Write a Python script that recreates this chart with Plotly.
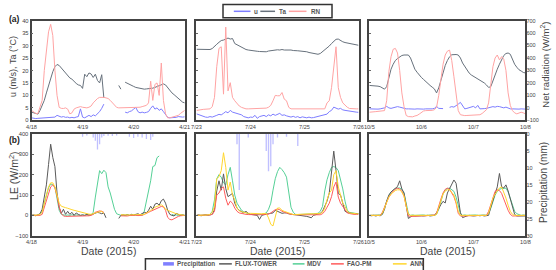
import plotly.graph_objects as go

N = None
hours = list(range(73))

ticks_apr = ["4/18", "4/19", "4/20", "4/21"]
ticks_jul = ["7/23", "7/24", "7/25", "7/26"]
ticks_oct = ["10/5", "10/6", "10/7", "10/8"]

# ---------------- April 18-21 ----------------
u_apr = [1.0, 0.8, 0.7, 0.8, 0.9, 1.0, 1.1, 1.2, 1.0, 1.2, 1.5, 1.3,
         2.0, 1.8, 1.3, 1.5, 1.2, 1.3, 1.0, 1.2, 1.0, 1.3, 1.5, 4.6,
         1.3, 1.0, 1.5, 2.0, 1.5, 2.2, 1.8, 2.5, 3.5, 4.8, 6.5, N,
         N, N, N, N, N, N, N, N, 3.3, 3.0, 3.5, 3.8,
         4.5, 5.2, 3.5, 3.0, 3.3, 3.0, 3.2, 3.5, 4.8, 5.8, 4.5, 5.0,
         4.0, 4.6, 3.5, 2.5, 1.2, 1.0, 1.0, 1.3, 1.2, 1.5, 1.3, 1.3, 1.4]
ta_apr = [3.3, 3.0, 2.6, 2.5, 4.0, 6.0, 8.0, 11.0, 14.0, 17.0, 19.5, 21.5,
          22.4, 22.0, 21.0, 20.0, 19.0, 18.0, 17.0, 16.5, 15.5, 14.8, 14.2, 14.0,
          12.8, 18.5, 17.5, 19.0, 18.6, 17.2, 18.5, 16.0, 15.0, 18.3, 9.0, N,
          N, N, N, N, N, 14.0, 12.5, N, 15.3, 14.8, 14.3, 14.0,
          13.6, 13.2, 13.0, 12.7, 12.5, 12.5, 12.6, 12.7, 12.5, 12.9, 13.2, 13.5,
          14.0, 14.3, 14.6, 14.2, 13.0, 12.0, 11.0, 10.3, 9.5, 8.6, 8.0, 7.3, 7.0]
rn_apr = [-20, -30, -45, -45, 0, 60, 300, 440, 610, 670, 580, 300,
          100, 4, -4, -5, 0, -10, -48, -40, -10, 0, 5, 10,
          5, 0, 0, 5, 15, 40, 60, 75, 84, 85, 84, 80,
          75, 60, 40, 20, 4, 0, 0, 0, 0, 2, 0, 0,
          0, 0, 0, 5, 10, 15, 20, 40, 214, 60, 188, 200,
          100, 360, 60, -48, -80, -80, -75, -70, -65, -60, -45, -30, -20]
flux_apr = [0, 2, -2, 4, 8, 30, 90, 150, 250, 350, 285, 240,
            110, 40, 10, 30, 5, 20, 5, 15, 0, 12, 5, 0,
            2, 0, 5, 2, 3, 8, 10, 15, 12, 8, 12, -12,
            N, N, N, N, N, -15, 0, 2, 0, 3, 0, 5,
            2, 5, 8, 3, 10, 15, 12, 25, 45, 30, 55, 60,
            50, 72, 80, 60, 25, 5, 0, -3, 10, 5, 0, 2, 0]
mdv_apr = [0, 0, 2, 0, 5, 20, 60, 100, 135, 155, 150, 140,
           80, 25, 5, 2, 0, 2, 0, 3, 0, 2, 0, 0,
           2, 0, 3, 0, 2, 15, 90, 160, 220, 205, 222, 210,
           140, 110, 70, 30, 8, 2, 0, 2, 0, 3, 0, 2,
           0, 2, 0, 3, 0, 20, 70, 120, 170, 240, 245, 284,
           292, N, N, N, N, N, 5, 0, 2, 0, 3, 0, 0]
fao_apr = [0, 0, -2, 0, 0, 5, 40, 80, 115, 140, 150, 135,
           95, 40, 10, -3, -5, -5, -4, -5, -3, -5, -4, -3,
           -3, -2, -3, -2, 0, 5, 15, 20, 22, 20, 15, N,
           N, N, N, N, N, N, -2, -3, -2, -3, -1, 0,
           -2, 0, -1, -2, 0, 5, 12, 15, 20, 25, 30, 35,
           40, 44, 42, 25, -10, -20, -22, -15, -8, -5, -2, 0, 0]
ann_apr = [0, 0, 0, 2, 5, 15, 60, 100, 140, 160, 160, 140,
           95, 60, 45, 40, 38, 35, 30, 28, 25, 22, 20, 15,
           12, 10, 8, 6, 5, 10, 12, 15, 18, 20, 10, N,
           N, N, N, N, N, N, 3, 2, 4, 3, 2, 3,
           2, 3, 4, 2, 3, 5, 10, 18, 25, 30, 40, 45,
           50, 52, 45, 30, 25, 20, 15, 10, 8, 5, 3, 0, 0]
precip_apr = [0, 0, 0, 0, 0, 0, 0, 0, 0, 0, 0, 0,
              0, 0, 0, 0, 0, 0, 0, 0, 0, 0, 0, 0,
              0.8, 0, 0.4, 0, 0, 1.0, 2.0, 4.6, 3.0, 1.0, 0.6, 0,
              0.5, 0, 0.6, 0, 0.4, 0, 0, 0, 0, 0, 0.8, 0,
              1.2, 0, 0.8, 0, 1.0, 0, 1.5, 0, 1.8, 0.8, 0, 0,
              0, 0, 0, 0, 0, 0, 0, 0, 0, 0, 0, 0, 0]

# ---------------- July 23-26 ----------------
u_jul = [2.6, 2.2, 1.8, 1.4, 1.3, 1.2, 1.5, 1.3, 1.8, 2.0, 2.4, 2.2,
         2.8, 3.5, 3.0, 4.0, 3.3, 3.0, 2.8, 2.6, 2.2, 1.5, 1.3, 1.0,
         1.3, 1.2, 2.0, 0.8, 1.5, 1.8, 2.0, 1.5, 2.2, 1.8, 2.5, 2.0,
         2.4, 2.8, 2.0, 2.2, 1.8, 1.5, 1.3, 1.6, 1.2, 1.5, 1.0, 1.4,
         1.2, 1.0, 1.3, 1.0, 1.1, 1.3, 1.5, 1.8, 2.0, 2.2, 2.5, 3.5,
         4.0, 5.3, 4.8, 4.5, 4.8, 4.2, 4.0, 3.8, 3.6, 3.4, 3.3, 3.3, 3.2]
ta_jul = [28.5, 28.5, 28.3, 28.2, 28.2, 28.3, 28.4, 28.8, 29.5, 30.5, 31.3, 32.0,
          32.2, 32.5, 33.0, 32.6, 32.8, 30.8, 30.3, 29.8, 29.2, 28.8, 28.4, 28.2,
          28.0, 27.8, 27.9, 27.7, 27.6, 27.5, 27.3, 27.5, 27.8, 28.0, 28.2, 28.3,
          28.3, 28.2, 28.4, 28.2, 28.3, 28.2, 28.2, 28.0, 28.1, 27.9, 27.8, 27.8,
          27.6, 27.5, 27.2, 27.0, 26.7, 26.5, 26.5, 26.8, 27.5, 28.2, 29.0, 29.8,
          30.8, 31.8, 32.5, 32.6, 32.0, 31.5, 31.2, 31.0, 30.8, 30.5, 30.3, 30.2, 30.1]
rn_jul = [-21, -20, -15, -12, -10, -8, -8, 10, 84, 330, 477, 490,
          110, 648, 136, 202, 84, 57, 31, 15, 4, -5, -8, -8,
          -8, -8, -8, -8, -5, -8, -5, -2, 5, 20, 57, 100,
          97, 97, 123, 70, 57, 4, -8, -8, -6, -8, -9, -8,
          -8, -7, -8, -8, -9, -8, -8, -7, -8, -8, 40, 57,
          162, 320, 490, 162, 84, 40, 18, 5, -5, -8, -8, -8, -8]
flux_jul = [0, 2, -2, 0, 3, 0, 2, 5, 28, 120, 170, 124,
            204, 132, 92, 100, 108, 60, 36, 25, 20, 12, 20, 10,
            5, 4, 2, 0, -20, 0, 3, 4, 8, 10, 12, 25,
            20, 15, 10, 12, 12, 8, 5, 4, 3, 2, 0, 0,
            -3, -5, -8, -12, 0, 3, 5, 10, 20, 44, 70, 110,
            204, 316, 220, 108, 100, 60, 20, 15, 10, 9, 9, 8, 8]
mdv_jul = [0, 0, 2, 0, 0, 2, 5, 20, 76, 180, 200, 188,
           160, 150, 200, 236, 170, 100, 60, 40, 25, 18, 12, 8,
           5, 4, 4, 4, 4, 5, 8, 12, 30, 60, 124, 180,
           215, 236, 225, 210, 188, 120, 40, 15, 5, 4, 4, 4,
           4, 5, 6, 7, 8, 8, 10, 20, 44, 120, 175, 210,
           236, 240, 235, 220, 180, 130, 70, 25, 15, 12, 10, 9, 9]
fao_jul = [0, 0, 0, 0, 0, 0, 2, 5, 20, 100, 110, 132,
           140, 84, 50, 70, 60, 36, 20, 12, 9, 6, 5, 4,
           3, 3, 3, 3, 3, 3, 4, 4, 6, 12, 20, 28,
           31, 28, 20, 15, 12, 8, 5, 3, 3, 3, 3, 3,
           3, 3, 3, 3, 3, 3, 3, 3, 8, 20, 40, 60,
           92, 140, 164, 90, 60, 44, 22, 12, 9, 6, 5, 5, 5]
ann_jul = [0, 0, 0, 0, 0, 2, 5, 15, 44, 180, 190, 220,
           308, 236, 124, 164, 100, 76, 36, 22, 18, 15, 12, 10,
           10, 9, 9, 9, 8, 8, 9, 9, -12, -44, -52, -10,
           36, 36, 25, 20, 15, 10, 5, 4, 4, 5, 6, 6,
           7, 7, 8, 8, 8, 8, 9, 9, 15, 36, 76, 110,
           124, 200, 220, 140, 100, 60, 44, 20, 12, 10, 8, 8, 8]
precip_jul = [0, 0, 0, 0, 0, 0, 0, 0, 0, 0, 0, 0,
              0, 0, 0, 0, 0, 0, 3.0, 16.5, 0, 0, 0, 1.0,
              0, 0, 0, 0, 0, 0, 0, 5.0, 11.0, 9.5, 3.0, 0,
              1.0, 0, 0, 0, 0.8, 0, 0, 0, 0, 3.5, 0, 0,
              0, 0, 0, 0, 0, 0, 0, 0, 0, 0, 0, 0,
              0, 0, 0, 0, 0, 0, 0, 0, 0, 0, 0, 0, 0]

# ---------------- October 5-8 ----------------
u_oct = [4.6, 4.5, 4.7, 4.6, 4.5, 4.6, 4.8, 5.0, 5.6, 5.0, 4.8, 5.0,
         5.3, 5.5, 5.3, 5.0, 4.8, 4.6, 4.6, 4.5, 4.6, 4.5, 4.6, 4.5,
         4.6, 4.5, 4.6, 4.5, 4.5, 4.6, 4.8, 5.6, 4.8, 4.6, 4.7, N,
         N, 5.2, 5.5, 5.3, 5.8, 6.5, 7.2, 6.0, 4.6, 4.8, 5.0, 5.2,
         5.6, 5.0, 6.0, 4.6, 4.8, 4.7, 4.8, 5.0, 5.3, 5.5, 5.3, 5.6,
         5.5, 5.2, 5.0, 5.3, 4.8, 4.6, 4.6, 4.5, 4.6, 4.5, 4.6, 4.6, 4.5]
ta_oct = [14.0, 14.0, 13.9, 13.8, 13.7, 13.5, 13.0, 12.5, 13.5, 17.0, 20.5, 22.5,
          24.0, 24.8, 25.5, 26.0, 26.2, 26.3, 26.2, 25.0, 22.5, 20.5, 19.3, 18.0,
          17.2, 16.4, 15.5, 14.8, 14.0, 13.3, 12.6, 11.0, 13.0, 16.0, 19.5, 22.0,
          24.0, 25.5, 26.3, 26.5, 26.4, 26.2, 25.0, 23.0, 21.5, 20.3, 19.0, 18.2,
          17.7, 17.2, 16.6, 16.2, 15.8, 15.0, 14.2, 13.2, 13.5, 16.0, 18.5, 20.5,
          22.5, 24.5, 26.0, 26.8, 27.0, 26.5, 24.5, 22.5, 21.3, 20.3, 19.8, 19.2, 19.0]
rn_oct = [-35, -35, -33, -30, -28, -25, -22, -22, 57, 290, 410, 470,
          477, 440, 300, 120, 10, -61, -70, -74, -72, -65, -61, -50,
          -35, -25, -22, -22, -22, -20, -15, 4, 100, 220, 350, 424,
          455, 463, 380, 250, 100, -22, -55, -61, -62, -61, -60, -62,
          -61, -60, -58, -55, -45, -30, -15, 40, 200, 330, 400, 424,
          385, 411, 390, 300, 120, 20, -22, -40, -48, -42, -35, -40, -48]
flux_oct = [0, -2, 0, -3, 0, -2, 5, 30, 70, 100, 115, 125,
            135, 142, 170, 130, 110, 50, -15, -8, -2, -3, -2, 0,
            -2, -3, -2, 0, -3, -2, 0, 13, 35, 53, 69, 61,
            110, 134, 150, 174, 158, 77, 13, -11, -5, -3, 0, -2,
            -3, -2, 0, -2, 0, -3, -2, 0, 40, 77, 110, 140,
            206, 140, 135, 150, 120, 80, 35, 5, -3, -3, -5, -2, -3]
mdv_oct = [0, 0, 2, 0, 0, 2, 5, 40, 70, 95, 115, 125,
           132, 134, 135, 128, 110, 60, 10, 0, 2, 0, 1, 0,
           0, 2, 0, 1, 0, 2, 0, 5, 30, 70, 105, 125,
           132, 134, 128, 118, 90, 45, 10, 0, 2, 0, 1, 0,
           0, 2, 0, 1, 0, 2, 0, 10, 35, 65, 100, 118,
           128, 132, 134, 134, 115, 80, 45, 20, 8, 3, 0, 2, 0]
fao_oct = [0, 0, 0, 0, 0, 0, 15, 40, 70, 90, 105, 120,
           128, 134, 130, 118, 95, 37, -3, -5, -4, -3, -2, -2,
           -2, -2, -2, -1, -1, 0, 2, 10, 50, 80, 110, 128,
           134, 128, 110, 92, 60, 10, -3, -4, -3, -2, -2, -1,
           -1, -1, 0, 0, 0, 0, 0, 20, 55, 90, 118, 126,
           122, 108, 80, 50, 25, 5, -3, -3, -2, -2, -1, -1, 0]
ann_oct = [0, 0, 0, 0, 0, 0, 10, 35, 65, 90, 105, 115,
           122, 126, 125, 115, 95, 45, 5, 0, 0, 0, 0, 0,
           0, 0, 0, 0, 0, 0, 0, 5, 35, 70, 105, 120,
           126, 126, 115, 100, 65, 20, 0, 0, 0, 0, 0, 0,
           0, 0, 0, 0, 0, 0, 0, 10, 50, 85, 105, 118,
           135, 140, 115, 85, 50, 20, 5, 0, 0, 0, 0, 0, 0]
precip_oct = [0] * 73

# ---------------- styling ----------------
W, H = 556, 270
FONT = "Liberation Sans, Arial, sans-serif"
C_U, C_TA, C_RN = "#7d7dff", "#67717c", "#ffa3a3"
C_PR = "rgba(130,130,255,0.5)"
C_FLUX, C_MDV, C_FAO, C_ANN = "#5a5a5a", "#55d096", "#ff5c5c", "#ffd62e"


def px(x):
    return x / W


def py(y):
    return 1 - y / H


def sfx(n):
    return "" if n == 1 else str(n)


windows = [
    dict(u=u_apr, ta=ta_apr, rn=rn_apr, flux=flux_apr, mdv=mdv_apr, fao=fao_apr,
         ann=ann_apr, pr=precip_apr, ticks=ticks_apr),
    dict(u=u_jul, ta=ta_jul, rn=rn_jul, flux=flux_jul, mdv=mdv_jul, fao=fao_jul,
         ann=ann_jul, pr=precip_jul, ticks=ticks_jul),
    dict(u=u_oct, ta=ta_oct, rn=rn_oct, flux=flux_oct, mdv=mdv_oct, fao=fao_oct,
         ann=ann_oct, pr=precip_oct, ticks=ticks_oct),
]
xdoms = [(27, 183), (195, 360), (371, 530)]
row_a = (18, 120)
row_b = (134, 238)

fig = go.Figure()
layout = {}
tickfont = dict(family=FONT, size=5.8, color="#444")

for i, w in enumerate(windows):
    xa, xb = i + 1, i + 4          # x axes rows a / b
    ya, yb = i + 1, i + 4          # primary y axes
    yra, ypr = i + 7, i + 10       # secondary y axes (RN, precipitation)
    dom = [px(xdoms[i][0]), px(xdoms[i][1])]
    for xn, yn, lw in ((xa, ya, 1.5), (xb, yb, 2)):
        layout["xaxis" + sfx(xn)] = dict(
            domain=dom, anchor="y" + sfx(yn), range=[0, 72],
            tickvals=[0, 24, 48, 72], ticktext=w["ticks"],
            tickfont=dict(family=FONT, size=5.6, color="#444"),
            showline=True, mirror=True, linecolor="#444", linewidth=lw,
            showgrid=False, zeroline=False, ticks="", fixedrange=True)
    layout["yaxis" + sfx(ya)] = dict(
        domain=[py(row_a[1]), py(row_a[0])], anchor="x" + sfx(xa), range=[0, 40], dtick=5,
        showticklabels=(i == 0), tickfont=tickfont, ticks="inside", ticklen=2, tickcolor="#666",
        showline=True, mirror=True, linecolor="#444", linewidth=1.5,
        showgrid=False, zeroline=False)
    layout["yaxis" + sfx(yb)] = dict(
        domain=[py(row_b[1]), py(row_b[0])], anchor="x" + sfx(xb), range=[-100, 400], dtick=100,
        showticklabels=(i == 0), tickfont=tickfont, ticks="inside", ticklen=2, tickcolor="#666",
        showline=True, mirror=True, linecolor="#444", linewidth=2,
        showgrid=False, zeroline=False)
    layout["yaxis" + sfx(yra)] = dict(
        overlaying="y" + sfx(ya), anchor="x" + sfx(xa), side="right", range=[-100, 700], dtick=100,
        showticklabels=(i == 2), tickfont=dict(family=FONT, size=5.5, color="#444"),
        ticks="", showgrid=False, zeroline=False, showline=False)
    layout["yaxis" + sfx(ypr)] = dict(
        overlaying="y" + sfx(yb), anchor="x" + sfx(xb), side="right", range=[30, 0], dtick=5,
        showticklabels=(i == 2), tickfont=dict(family=FONT, size=5.5, color="#444"),
        ticks="", showgrid=False, zeroline=False, showline=False)

    # row (a)
    fig.add_trace(go.Scatter(x=hours, y=w["u"], name="u", mode="lines", line=dict(color=C_U, width=1),
                             xaxis="x" + sfx(xa), yaxis="y" + sfx(ya), showlegend=False))
    fig.add_trace(go.Scatter(x=hours, y=w["ta"], name="Ta", mode="lines", line=dict(color=C_TA, width=1),
                             xaxis="x" + sfx(xa), yaxis="y" + sfx(ya), showlegend=False))
    fig.add_trace(go.Scatter(x=hours, y=w["rn"], name="RN", mode="lines", line=dict(color=C_RN, width=1),
                             xaxis="x" + sfx(xa), yaxis="y" + sfx(yra), showlegend=False))
    # row (b)
    fig.add_trace(go.Scatter(x=hours, y=w["mdv"], name="MDV", mode="lines", line=dict(color=C_MDV, width=1),
                             xaxis="x" + sfx(xb), yaxis="y" + sfx(yb), showlegend=False))
    fig.add_trace(go.Scatter(x=hours, y=w["flux"], name="FLUX-TOWER", mode="lines", line=dict(color=C_FLUX, width=1),
                             xaxis="x" + sfx(xb), yaxis="y" + sfx(yb), showlegend=False))
    fig.add_trace(go.Scatter(x=hours, y=w["fao"], name="FAO-PM", mode="lines", line=dict(color=C_FAO, width=1),
                             xaxis="x" + sfx(xb), yaxis="y" + sfx(yb), showlegend=False))
    fig.add_trace(go.Scatter(x=hours, y=w["ann"], name="ANN", mode="lines", line=dict(color=C_ANN, width=1),
                             xaxis="x" + sfx(xb), yaxis="y" + sfx(yb), showlegend=False))
    fig.add_trace(go.Bar(x=hours, y=w["pr"], name="Precipitation", width=0.6,
                         marker=dict(color=C_PR, line=dict(width=0)),
                         xaxis="x" + sfx(xb), yaxis="y" + sfx(ypr), showlegend=False))

annotations = []


def txt(x, y, s, size, angle=0, bold=False, anchor="center", color="#333"):
    annotations.append(dict(
        x=px(x), y=py(y), xref="paper", yref="paper", text=("<b>%s</b>" % s) if bold else s,
        showarrow=False, textangle=angle, xanchor=anchor, yanchor="middle",
        font=dict(family=FONT, size=size, color=color)))


txt(2, 16, "(a)", 8.5, bold=True, anchor="left", color="#222")
txt(2, 140.5, "(b)", 8.5, bold=True, anchor="left", color="#222")
txt(7.5, 65, "u (m/s), Ta (°C)", 9, angle=-90, color="#444")
txt(8, 177, "LE (W/m<sup>2</sup>)", 10.5, angle=-90, color="#444")
txt(549, 63, "Net radiation (W/m<sup>2</sup>)", 9.5, angle=-90, color="#444")
txt(549, 184, "Precipitation (mm)", 10, angle=-90, color="#444")
for cx in (105, 277.5, 450.5):
    txt(cx, 253.5, "Date (2015)", 10.5, color="#444")

shapes = []


def legend_line(x0, x1, y, color, width):
    shapes.append(dict(type="line", xref="paper", yref="paper", x0=px(x0), x1=px(x1),
                       y0=py(y), y1=py(y), line=dict(color=color, width=width)))


# top legend (u, Ta, RN)
shapes.append(dict(type="rect", xref="paper", yref="paper", x0=px(222), x1=px(333), y0=py(15), y1=py(1.5),
                   line=dict(color="#333", width=1.5), fillcolor="white"))
for (x0, x1, tx, lab, col) in ((233, 250, 252, "u", C_U), (260, 275, 277, "Ta", C_TA), (289, 307, 310, "RN", C_RN)):
    legend_line(x0, x1, 8.5, col, 1.5)
    txt(tx, 8.5, lab, 6.3, bold=True, anchor="left", color="#555")

# bottom legend
shapes.append(dict(type="rect", xref="paper", yref="paper", x0=px(143), x1=px(426), y0=py(276), y1=py(261.5),
                   line=dict(color="#333", width=1.5), fillcolor="white"))
for (x0, x1, tx, lab, col, lw) in ((161, 172, 173, "Precipitation", "#8080ff", 3.5),
                                   (218, 231, 232, "FLUX-TOWER", C_FLUX, 1.5),
                                   (293, 305, 306, "MDV", C_MDV, 1.5),
                                   (332, 345, 346, "FAO-PM", C_FAO, 1.5),
                                   (395, 409, 410, "ANN", C_ANN, 1.5)):
    legend_line(x0, x1, 266.8, col, lw)
    txt(tx, 266.8, lab, 6.3, bold=True, anchor="left", color="#555")

fig.update_layout(
    width=W, height=H, autosize=False,
    margin=dict(l=0, r=0, t=0, b=0),
    paper_bgcolor="white", plot_bgcolor="white",
    font=dict(family=FONT, color="#444"),
    showlegend=False, barmode="overlay",
    annotations=annotations, shapes=shapes,
    **layout)

fig.write_html("out.html")
